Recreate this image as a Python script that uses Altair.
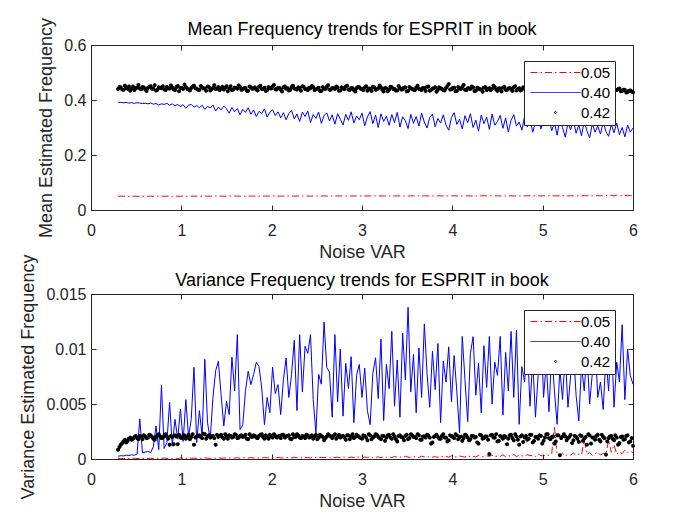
import altair as alt
import pandas as pd

# x grids (noise variance settings)
noise_var = [round(0.3 + 0.03 * i, 3) for i in range(191)]
noise_var_b = [round(0.315 + 0.03 * i, 3) for i in range(190)]
series_names = ["0.05", "0.40", "0.42"]

# ---- Mean estimated frequency (top panel) ----
# 0.05 source, values x 1e-4
mean_005 = [
    498, 502, 499, 501, 497, 503, 500, 498, 502, 500,
    501, 499, 503, 498, 502, 500, 504, 499, 501, 503,
    500, 505, 501, 499, 504, 502, 500, 506, 501, 503,
    505, 500, 507, 502, 504, 499, 506, 503, 508, 501,
    504, 507, 502, 506, 509, 503, 505, 501, 508, 504,
    506, 510, 503, 507, 505, 509, 502, 508, 511, 504,
    507, 503, 510, 506, 512, 504, 508, 505, 511, 507,
    509, 504, 512, 507, 510, 506, 513, 505, 509, 511,
    506, 512, 508, 514, 507, 510, 505, 513, 509, 511,
    507, 514, 509, 512, 506, 515, 510, 508, 513, 509,
    511, 506, 514, 510, 516, 508, 512, 509, 515, 511,
    508, 513, 510, 517, 509, 514, 511, 507, 516, 512,
    510, 515, 508, 513, 518, 511, 509, 516, 512, 514,
    509, 517, 513, 510, 515, 520, 511, 514, 512, 518,
    513, 510, 516, 512, 519, 514, 509, 517, 513, 515,
    511, 518, 514, 521, 512, 516, 510, 519, 515, 513,
    520, 514, 517, 511, 523, 516, 512, 519, 515, 522,
    513, 518, 525, 516, 520, 514, 527, 517, 521, 515,
    530, 519, 524, 516, 535, 521, 518, 528, 520, 524,
    519,
]
# 0.40 source, values x 1e-3
mean_040 = [
    392, 391, 390, 391, 389, 390, 388, 390, 389, 387,
    388, 386, 389, 385, 387, 382, 386, 384, 388, 381,
    386, 379, 384, 376, 383, 370, 381, 384, 374, 380,
    372, 381, 366, 377, 371, 382, 360, 374, 364, 378,
    368, 352, 373, 357, 369, 346, 366, 355, 372, 348,
    364, 340, 359, 351, 368, 338, 356, 364, 343, 357,
    335, 354, 328, 351, 362, 331, 349, 322, 356, 340,
    360, 318, 347, 333, 356, 315, 344, 353, 324, 346,
    312, 350, 330, 309, 348, 326, 357, 316, 342, 328,
    352, 306, 338, 358, 314, 345, 300, 350, 322, 341,
    308, 347, 318, 355, 302, 339, 325, 296, 348, 315,
    340, 305, 352, 320, 298, 337, 349, 303, 333, 316,
    346, 309, 290, 336, 354, 311, 330, 295, 343, 318,
    350, 300, 327, 287, 345, 314, 338, 293, 349, 308,
    322, 344, 297, 335, 284, 326, 347, 305, 320, 290,
    341, 302, 331, 283, 317, 345, 294, 328, 305, 339,
    288, 318, 272, 329, 300, 265, 316, 292, 327, 279,
    309, 270, 322, 288, 262, 314, 283, 305, 276, 320,
    286, 268, 311, 281, 316, 274, 300, 266, 309, 283,
    298,
]
# 0.42 source, values x 1e-3 (on both x grids)
mean_042 = [
    440, 446, 437, 443, 449, 441, 436, 445, 442, 447,
    438, 444, 450, 441, 435, 446, 443, 439, 448, 442,
    445, 436, 451, 443, 440, 447, 438, 444, 452, 441,
    437, 446, 442, 449, 435, 444, 440, 447, 443, 438,
    450, 442, 436, 445, 441, 447, 439, 444, 433, 446,
    442, 438, 448, 440, 445, 436, 443, 449, 439, 444,
    437, 446, 441, 435, 447, 442, 438, 444, 450, 440,
    436, 443, 447, 439, 445, 433, 441, 448, 437, 444,
    440, 446, 435, 442, 449, 438, 444, 436, 443, 447,
    439, 445, 434, 441, 448, 437, 443, 446, 431, 442,
    438, 447, 440, 435, 444, 439, 446, 433, 442, 437,
    445, 440, 436, 443, 448, 434, 441, 446, 438, 443,
    436, 444, 458, 439, 445, 433, 441, 447, 437, 443,
    440, 446, 434, 442, 438, 445, 436, 443, 440, 447,
    433, 441, 445, 437, 442, 439, 446, 435, 443, 438,
    444, 436, 441, 447, 434, 440, 443, 437, 445, 432,
    441, 438, 444, 436, 442, 439, 446, 434, 440, 437,
    443, 435, 441, 438, 445, 433, 440, 436, 442, 437,
    434, 440, 431, 438, 436, 442, 433, 437, 429, 435,
    428,
]
mean_042_b = [
    447, 438, 452, 441, 434, 449, 443, 455, 439, 446,
    433, 448, 441, 454, 437, 445, 450, 436, 442, 453,
    439, 447, 432, 444, 456, 440, 435, 449, 443, 437,
    451, 442, 434, 447, 439, 454, 441, 436, 448, 444,
    432, 450, 438, 445, 453, 437, 443, 434, 449, 441,
    446, 435, 452, 440, 433, 447, 442, 455, 438, 444,
    431, 449, 443, 437, 452, 440, 446, 434, 448, 439,
    445, 451, 436, 442, 433, 447, 440, 454, 438, 443,
    449, 434, 446, 439, 452, 437, 443, 431, 447, 441,
    436, 450, 442, 433, 446, 439, 453, 437, 444, 432,
    448, 440, 435, 451, 438, 445, 432, 447, 441, 436,
    452, 439, 444, 433, 449, 437, 443, 430, 446, 440,
    435, 451, 438, 444, 432, 447, 440, 455, 436, 442,
    449, 433, 445, 439, 430, 447, 441, 436, 452, 438,
    443, 431, 448, 437, 444, 433, 450, 439, 435, 446,
    440, 432, 447, 438, 444, 429, 449, 436, 442, 434,
    446, 437, 431, 443, 439, 450, 433, 441, 436, 445,
    430, 440, 447, 435, 442, 428, 446, 437, 433, 441,
    438, 444, 429, 436, 440, 432, 437, 427, 434, 431,
]

# ---- Variance of estimated frequency (bottom panel), values x 1e-5 ----
var_005 = [
    3, 5, 4, 6, 3, 5, 7, 4, 6, 5,
    6, 4, 7, 5, 8, 5, 6, 9, 5, 7,
    6, 8, 5, 9, 7, 6, 10, 7, 8, 6,
    9, 7, 11, 8, 6, 10, 8, 12, 7, 9,
    10, 8, 12, 9, 11, 7, 13, 9, 10, 12,
    9, 13, 10, 8, 14, 11, 9, 13, 10, 15,
    11, 9, 14, 12, 10, 16, 11, 13, 9, 15,
    12, 10, 17, 13, 11, 15, 12, 18, 10, 14,
    13, 16, 11, 19, 14, 12, 17, 13, 20, 15,
    12, 18, 14, 22, 13, 16, 19, 12, 21, 15,
    17, 14, 23, 16, 19, 13, 25, 17, 15, 22,
    18, 14, 26, 19, 16, 24, 17, 21, 15, 28,
    19, 23, 16, 30, 20, 18, 27, 22, 17, 31,
    21, 25, 18, 34, 22, 19, 29, 24, 36, 20,
    27, 23, 38, 21, 30, 25, 42, 22, 33, 28,
    24, 40, 29, 35, 23, 45, 31, 27, 38, 33,
    48, 300, 36, 30, 52, 28, 41, 35, 55, 32,
    44, 38, 170, 40, 58, 33, 47, 62, 36, 50,
    45, 170, 60, 130, 42, 66, 48, 80, 55, 70,
    58,
]
var_040 = [
    25, 30, 28, 35, 32, 38, 34, 45, 365, 55,
    62, 70, 58, 110, 300, 85, 670, 95, 150, 515,
    120, 360, 180, 455, 160, 540, 200, 365, 834, 150,
    440, 210, 906, 330, 180, 560, 803, 888, 585, 300,
    525, 404, 927, 620, 1131, 267, 310, 620, 797, 676,
    767, 879, 840, 646, 312, 560, 420, 836, 594, 676,
    404, 720, 918, 560, 767, 1080, 440, 1131, 610, 1025,
    960, 1131, 540, 237, 770, 680, 1246, 830, 790, 380,
    1131, 520, 1000, 390, 870, 640, 930, 330, 760, 860,
    560, 827, 440, 312, 780, 920, 550, 1090, 350, 860,
    640, 1160, 480, 900, 380, 1145, 720, 1379, 610, 950,
    420, 1010, 560, 1228, 780, 470, 980, 630, 1050, 330,
    890, 700, 1020, 520, 940, 610, 237, 1115, 720, 340,
    960, 1112, 580, 870, 420, 1030, 650, 1114, 500, 880,
    760, 1115, 400, 970, 620, 1160, 560, 1170, 315, 840,
    700, 1050, 480, 900, 380, 760, 1230, 560, 870, 430,
    980, 620, 315, 820, 540, 960, 470, 760, 1010, 580,
    345, 850, 620, 990, 500, 780, 1080, 560, 700, 450,
    930, 620, 1130, 470, 880, 700, 1220, 540, 1000, 760,
    680,
]
var_042 = [
    85, 130, 160, 150, 185, 175, 200, 190, 210, 180,
    205, 195, 215, 185, 200, 225, 190, 210, 205, 130,
    200, 215, 135, 195, 210, 185, 220, 200, 130, 205,
    215, 190, 225, 205, 195, 210, 130, 200, 220, 185,
    205, 215, 195, 225, 190, 210, 200, 220, 180, 205,
    215, 195, 210, 225, 185, 200, 220, 195, 210, 205,
    190, 220, 205, 215, 180, 200, 225, 195, 210, 190,
    215, 200, 185, 220, 195, 210, 170, 205, 215, 190,
    225, 200, 195, 210, 175, 215, 205, 190, 220, 200,
    185, 210, 170, 215, 195, 225, 200, 180, 210, 195,
    220, 185, 205, 160, 215, 195, 210, 180, 225, 200,
    190, 215, 175, 205, 220, 195, 150, 210, 200, 185,
    225, 195, 170, 210, 190, 215, 200, 165, 220, 195,
    180, 210, 200, 140, 215, 190, 205, 45, 220, 195,
    160, 210, 185, 200, 185, 220, 170, 205, 130, 215,
    195, 175, 220, 150, 200, 185, 210, 165, 225, 190,
    200, 140, 215, 35, 205, 205, 190, 220, 170, 200,
    155, 210, 185, 130, 215, 195, 175, 220, 160, 200,
    40, 190, 210, 170, 195, 145, 205, 180, 215, 160,
    120,
]
var_042_b = [
    110, 145, 175, 165, 195, 185, 210, 180, 200, 215,
    190, 220, 200, 175, 215, 205, 195, 225, 185, 210,
    135, 205, 220, 190, 215, 200, 180, 225, 195, 210,
    200, 230, 185, 215, 205, 190, 220, 210, 195, 225,
    185, 210, 200, 220, 195, 215, 205, 185, 225, 200,
    210, 190, 220, 200, 215, 185, 205, 225, 195, 210,
    220, 195, 210, 185, 225, 200, 215, 190, 205, 220,
    195, 215, 205, 180, 220, 200, 190, 225, 205, 210,
    185, 220, 205, 195, 215, 180, 225, 200, 210, 190,
    215, 195, 225, 180, 205, 220, 190, 210, 165, 215,
    195, 225, 180, 210, 200, 170, 220, 190, 215, 200,
    225, 175, 205, 195, 215, 140, 200, 220, 185, 210,
    195, 160, 215, 200, 225, 180, 205, 190, 215, 170,
    210, 195, 150, 220, 185, 205, 175, 215, 195, 225,
    165, 200, 210, 135, 215, 190, 225, 175, 205, 155,
    210, 185, 220, 165, 200, 215, 140, 195, 225, 180,
    205, 160, 215, 190, 225, 170, 200, 145, 210, 185,
    215, 165, 200, 225, 140, 195, 210, 175, 220, 190,
    160, 205, 185, 215, 130, 200, 175, 210, 150, 190,
]

for arr in (mean_005, mean_040, mean_042, var_005, var_040, var_042):
    assert len(arr) == len(noise_var)
for arr in (mean_042_b, var_042_b):
    assert len(arr) == len(noise_var_b)


def frame(xs, vals, unit, name):
    return pd.DataFrame({"noise": xs,
                         "value": [v * unit for v in vals],
                         "series": name})


FONT = "Liberation Sans"
TXT = "#262626"
W, H = 542, 165
LINE_SYM = "M-5,0H5"
DOT_SYM = "M-0.2,0A0.2,0.2 0 1,0 0.2,0A0.2,0.2 0 1,0 -0.2,0Z"
X_TICKS = [0, 1, 2, 3, 4, 5, 6]
COLORS = ["#ff0000", "#0000ff", "#000000"]
DASHES = [[7, 3, 1.5, 3], [1, 0], [1, 0]]

# per-entry legend symbol colour, looked up from the series names / colours
SYMBOL_COLOR_EXPR = " : ".join(
    f"(datum.index === {i} || datum.label === '{n}' || datum.value === '{n}') ? '{c}'"
    for i, (n, c) in enumerate(zip(series_names[:-1], COLORS[:-1]))
) + f" : '{COLORS[-1]}'"


def make_legend():
    return alt.Legend(title=None, orient="none", legendX=433, legendY=16,
                      direction="vertical", padding=4, rowPadding=4,
                      symbolOffset=20, labelOffset=18, symbolSize=100,
                      symbolStrokeWidth=1, labelFontSize=15, labelFont=FONT,
                      labelColor="#000000", strokeColor=TXT, fillColor="white",
                      symbolStrokeColor=alt.ExprRef(SYMBOL_COLOR_EXPR))


def tick_axis(orient, values, off):
    return alt.Axis(orient=orient, offset=off, values=values, labels=False,
                    domain=False, grid=False, ticks=True, tickSize=5,
                    tickColor=TXT, tickWidth=1, title=None)


def panel(red, blue, black, title, title_offset, ytitle, ymax, yvals, yfmt):
    xs = alt.Scale(domain=[0, 6], nice=False, zero=False)
    ys = alt.Scale(domain=[0, ymax], nice=False)
    lg = make_legend()

    x_main = alt.Axis(values=X_TICKS, title="Noise VAR", ticks=False, tickSize=0,
                      domain=False, grid=False, labelPadding=12, titlePadding=5,
                      labelFontSize=16, titleFontSize=18, labelFont=FONT,
                      titleFont=FONT, labelColor=TXT, titleColor=TXT,
                      titleFontWeight="normal", format="d", labelFlush=False,
                      labelOverlap=False)
    y_main = alt.Axis(values=yvals, title=ytitle, ticks=False, tickSize=0,
                      domain=False, grid=False, labelPadding=5, titlePadding=8,
                      labelFontSize=16, titleFontSize=18, labelFont=FONT,
                      titleFont=FONT, labelColor=TXT, titleColor=TXT,
                      titleFontWeight="normal", format=yfmt, labelFlush=False,
                      labelOverlap=False)

    red_layer = alt.Chart(red).mark_line(
        strokeWidth=1, color=COLORS[0], strokeDash=DASHES[0]).encode(
        x=alt.X("noise:Q", scale=xs, axis=x_main),
        y=alt.Y("value:Q", scale=ys, axis=y_main))
    blue_layer = alt.Chart(blue).mark_line(strokeWidth=1, color=COLORS[1]).encode(
        x=alt.X("noise:Q", scale=xs, axis=tick_axis("top", X_TICKS, -H)),
        y=alt.Y("value:Q", scale=ys, axis=tick_axis("right", yvals, -W)))
    black_layer = alt.Chart(black).mark_point(
        filled=False, size=100, opacity=1, strokeWidth=2, color=COLORS[2]).encode(
        x=alt.X("noise:Q", scale=xs, axis=tick_axis("bottom", X_TICKS, -H)),
        y=alt.Y("value:Q", scale=ys, axis=tick_axis("left", yvals, -W)),
        strokeDash=alt.StrokeDash("series:N", legend=lg,
                                  scale=alt.Scale(domain=series_names, range=DASHES)),
        shape=alt.Shape("series:N", legend=lg,
                        scale=alt.Scale(domain=series_names,
                                        range=[LINE_SYM, LINE_SYM, DOT_SYM])))

    return alt.layer(red_layer, blue_layer, black_layer).resolve_axis(
        x="independent", y="independent").properties(
        width=W, height=H,
        title=alt.Title(title, fontSize=18, font=FONT, fontWeight="normal",
                        color="#000000", offset=title_offset))


top = panel(frame(noise_var, mean_005, 1e-4, "0.05"),
            frame(noise_var, mean_040, 1e-3, "0.40"),
            pd.concat([frame(noise_var, mean_042, 1e-3, "0.42"),
                       frame(noise_var_b, mean_042_b, 1e-3, "0.42")]),
            "Mean Frequency trends for ESPRIT in book", -22,
            "Mean Estimated Frequency", 0.6, [0, 0.2, 0.4, 0.6], ".1~f")
bottom = panel(frame(noise_var, var_005, 1e-5, "0.05"),
               frame(noise_var, var_040, 1e-5, "0.40"),
               pd.concat([frame(noise_var, var_042, 1e-5, "0.42"),
                          frame(noise_var_b, var_042_b, 1e-5, "0.42")]),
               "Variance Frequency trends for ESPRIT in book", -36,
               "Variance Estimated Frequency", 0.015,
               [0, 0.005, 0.01, 0.015], ".3~f")

chart = alt.vconcat(top, bottom, spacing=84, bounds="flush").resolve_scale(
    strokeDash="independent", shape="independent"
).resolve_legend(
    strokeDash="independent", shape="independent"
).properties(
    padding={"left": 11, "top": 8, "right": 5, "bottom": 5},
    background="white",
).configure_view(stroke=TXT, strokeWidth=1)

chart.save("out.html", embed_options={"renderer": "svg", "actions": False})
